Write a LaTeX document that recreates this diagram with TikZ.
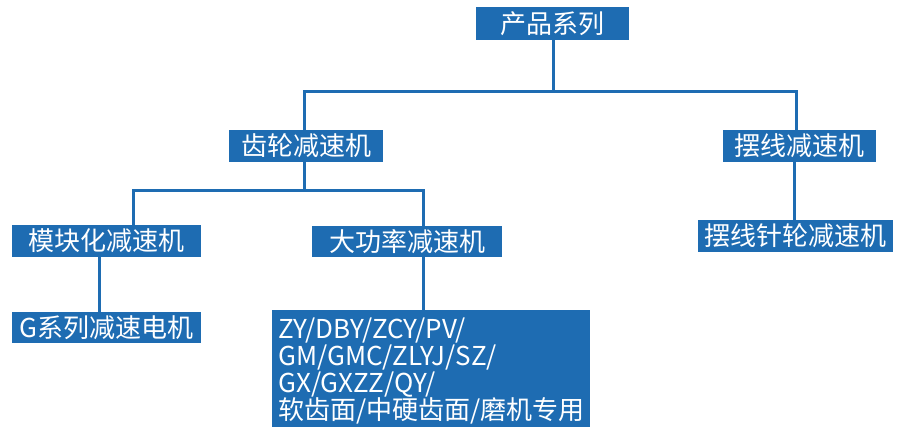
\documentclass[tikz,border=0pt]{standalone}
\usepackage{fontspec}
\setmainfont{Noto Sans CJK SC}
\definecolor{boxblue}{RGB}{30,108,178}
\begin{document}
\begin{tikzpicture}[x=1pt,y=-1pt,
  box/.style={fill=boxblue, text=white, inner sep=0pt, font=\fontsize{26}{27}\selectfont},
  link/.style={draw=boxblue, line width=3pt, line join=miter}]
\useasboundingbox (0,0) rectangle (901,426);
% nodes
\node[box, minimum width=153pt, minimum height=33pt] (top) at (552.5,23.5) {产品系列};
\node[box, minimum width=154pt, minimum height=32pt] (gear) at (306,146) {齿轮减速机};
\node[box, minimum width=153pt, minimum height=32pt] (cyc) at (799.5,146) {摆线减速机};
\node[box, minimum width=189pt, minimum height=32pt] (mod) at (106.5,241) {模块化减速机};
\node[box, minimum width=190pt, minimum height=31pt] (big) at (407,241.5) {大功率减速机};
\node[box, minimum width=195pt, minimum height=32pt] (cycpin) at (795.5,236) {摆线针轮减速机};
\node[box, minimum width=189pt, minimum height=31pt] (gser) at (106.5,327.5) {G系列减速电机};
\node[box, anchor=north west, text width=306pt, inner xsep=6pt, inner ysep=8pt, align=left] (types) at (272,310)
  {ZY/DBY/ZCY/PV/\\GM/GMC/ZLYJ/SZ/\\GX/GXZZ/QY/\\软齿面/中硬齿面/磨机专用};
% junctions
\coordinate (j1l) at (304,91);
\coordinate (j1r) at (796,91);
\coordinate (j2l) at (133,190);
\coordinate (j2r) at (423,190);
\coordinate (v3) at (99,300);
% connectors
\draw[link] (top.south -| 553,0) -- (j1l -| 553,0);
\draw[link] (gear.north -| j1l) -- (j1l) -- (j1r) -- (cyc.north -| j1r);
\draw[link] (gear.south -| j1l) -- (j1l |- j2l);
\draw[link] (mod.north -| j2l) -- (j2l) -- (j2r) -- (big.north -| j2r);
\draw[link] (big.south -| j2r) -- (types.north -| j2r);
\draw[link] (mod.south -| v3) -- (gser.north -| v3);
\draw[link] (cyc.south -| 794,0) -- (cycpin.north -| 794,0);
\end{tikzpicture}
\end{document}
